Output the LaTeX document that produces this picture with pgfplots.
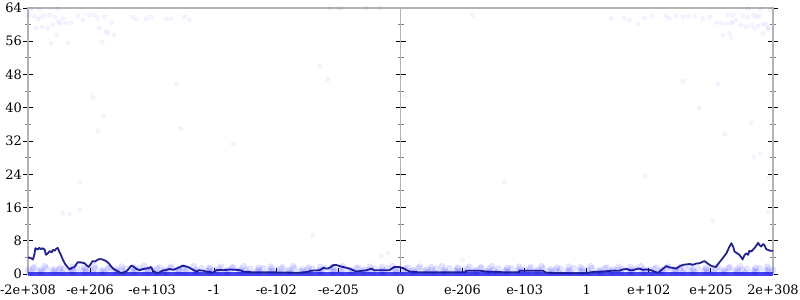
\documentclass[border=0pt]{standalone}
\usepackage{pgfplots}
\pgfplotsset{compat=1.18}
\usepackage{fontspec}
\setmainfont{DejaVu Serif}
\definecolor{axisgray}{RGB}{180,180,180}
\definecolor{linecol}{RGB}{35,35,140}
\definecolor{zerocol}{RGB}{70,70,235}
\begin{document}
\begin{tikzpicture}
\useasboundingbox (-28bp,-26bp) rectangle (772bp,274bp);
% middle axis at x = 0
\begin{axis}[at={(0,0)}, anchor=south west, scale only axis, width=745bp, height=266bp,
  xmin=-6, xmax=6, ymin=0, ymax=64,
  axis y line=center, axis x line=none,
  axis line style={draw=axisgray, line width=1.5bp, -},
  ytick={0,8,...,64}, yticklabels={}, minor y tick num=1,
  tick align=center, major tick length=10bp, minor tick length=6bp,
  major tick style={black, line width=1bp}, minor tick style={gray, line width=0.8bp}]
\end{axis}
% left / right y ticks
\begin{axis}[at={(0,0)}, anchor=south west, scale only axis, width=745bp, height=266bp,
  xmin=-6, xmax=6, ymin=0, ymax=64,
  axis line style={draw=none},
  xtick=\empty, ytick={0,8,...,64}, minor y tick num=1, ytick pos=both,
  tick align=center, major tick length=10bp, minor tick length=6bp,
  major tick style={black, line width=1bp}, minor tick style={gray, line width=0.8bp},
  /pgf/number format/assume math mode=true,
  yticklabel style={font=\fontsize{13}{15}\selectfont, inner sep=1bp}]
\end{axis}
% data axis
\begin{axis}[at={(0,0)}, anchor=south west, scale only axis, width=745bp, height=266bp,
  xmin=-6, xmax=6, ymin=0, ymax=64, clip=false,
  axis line style={draw=axisgray, line width=1.5bp},
  xtick={-6,-5,-4,-3,-2,-1,0,1,2,3,4,5,6},
  xticklabels={-2e+308,-e+206,-e+103,-1,-e-102,-e-205,0,e-206,e-103,1,e+102,e+205,2e+308},
  xtick pos=left, ytick=\empty, tick align=inside, major tick length=6bp,
  major tick style={black, line width=1bp},
  xticklabel style={font=\fontsize{13}{15}\selectfont, yshift=-7.5bp}]
% sparse points
\addplot[only marks, mark=*, mark size=2bp, mark options={fill=blue, draw=blue, fill opacity=0.035, draw opacity=0.07}] coordinates {
(-5.98,62.3) (-5.90,62.1) (-5.84,61.3) (-5.79,61.9) (-5.73,62.1) (-5.65,62.3) (-5.57,61.8) (-5.44,61.5)
(-5.87,59.1) (-5.77,59.5) (-5.68,59.1) (-5.60,59.9) (-5.52,60.7) (-5.47,60.3) (-5.39,60.3) (-5.31,60.5)
(-5.20,62.1) (-5.12,61.1) (-5.01,62.3) (-4.93,62.3) (-4.88,61.5) (-4.77,61.9) (-4.85,59.3) (-4.74,58.3)
(-4.71,57.9) (-4.66,60.5) (-4.61,57.5) (-4.80,55.9) (-5.54,57.5) (-5.63,55.5) (-5.36,55.5)
(-4.31,61.8) (-4.26,61.3) (-4.10,61.4) (-4.02,61.9) (-3.77,61.4) (-3.69,61.4) (-3.48,61.9) (-3.40,61.1)
(-5.95,63.8) (-5.82,63.8) (-5.52,63.8) (-1.14,63.9) (-1.02,63.9) (-0.96,63.9) (-0.55,63.9) (-0.34,63.9)
(1.16,62.3) (-3.61,45.6) (-4.96,42.5) (-1.30,49.9) (-1.17,46.8) (0.08,42.7)
(-4.78,38.1) (-4.88,34.5) (-3.54,34.9) (-2.70,31.3) (-5.17,22.0)
(-5.44,14.6) (-5.33,14.4) (-5.17,15.4) (-1.41,9.4) (-0.31,4.3) (-0.20,5.0) (1.0,3.4) (5.03,12.8) (5.92,14.8)
(3.39,61.5) (3.61,61.5) (3.69,61.1) (3.82,60.2) (3.93,61.5) (4.06,62.1) (4.28,62.1) (4.33,61.5)
(4.44,62.1) (4.55,61.9) (4.63,62.1) (4.74,62.1) (4.87,61.5) (4.98,61.9) (5.09,60.5) (5.17,60.3)
(5.25,60.2) (5.33,60.3) (5.27,62.3) (5.35,62.3) (5.41,61.1) (5.51,62.1) (5.59,61.8) (5.68,62.3)
(5.73,61.9) (5.78,62.1) (5.35,60.7) (5.49,59.9) (5.57,59.5) (5.65,59.9) (5.70,59.1) (5.76,59.7)
(5.84,60.2) (5.89,59.9) (5.94,59.3) (5.84,57.9) (5.92,58.9) (5.19,57.5) (5.30,57.9) (5.33,56.7)
(4.55,46.4) (5.11,45.7) (4.81,39.9) (5.65,36.4) (5.22,33.6) (5.80,29.0) (5.69,28.1) (3.94,23.6)
(1.68,22.1) (5.94,23.4) (5.6,63.8) (5.8,63.8) (5.95,63.5)
};
% dense band near zero
\addplot[only marks, mark=*, mark size=3.2bp, mark options={fill=blue, draw=blue, fill opacity=0.1, draw opacity=0.08}] coordinates {
(-5.95,.35) (-5.82,.6) (-5.77,.45) (-5.61,.7) (-5.56,.5)
(-5.45,.35) (-5.32,.6) (-5.27,.45) (-5.11,.7) (-5.06,.5)
(-4.95,.35) (-4.82,.6) (-4.77,.45) (-4.61,.7) (-4.56,.5)
(-4.45,.35) (-4.32,.6) (-4.27,.45) (-4.11,.7) (-4.06,.5)
(-3.95,.35) (-3.82,.6) (-3.77,.45) (-3.61,.7) (-3.56,.5)
(-3.45,.35) (-3.32,.6) (-3.27,.45) (-3.11,.7) (-3.06,.5)
(-2.95,.35) (-2.82,.6) (-2.77,.45) (-2.61,.7) (-2.56,.5)
(-2.45,.35) (-2.32,.6) (-2.27,.45) (-2.11,.7) (-2.06,.5)
(-1.95,.35) (-1.82,.6) (-1.77,.45) (-1.61,.7) (-1.56,.5)
(-1.45,.35) (-1.32,.6) (-1.27,.45) (-1.11,.7) (-1.06,.5)
(-0.95,.35) (-0.82,.6) (-0.77,.45) (-0.61,.7) (-0.56,.5)
(-0.45,.35) (-0.32,.6) (-0.27,.45) (-0.11,.7) (-0.06,.5)
(0.05,.35) (0.18,.6) (0.23,.45) (0.39,.7) (0.44,.5)
(0.55,.35) (0.68,.6) (0.73,.45) (0.89,.7) (0.94,.5)
(1.05,.35) (1.18,.6) (1.23,.45) (1.39,.7) (1.44,.5)
(1.55,.35) (1.68,.6) (1.73,.45) (1.89,.7) (1.94,.5)
(2.05,.35) (2.18,.6) (2.23,.45) (2.39,.7) (2.44,.5)
(2.55,.35) (2.68,.6) (2.73,.45) (2.89,.7) (2.94,.5)
(3.05,.35) (3.18,.6) (3.23,.45) (3.39,.7) (3.44,.5)
(3.55,.35) (3.68,.6) (3.73,.45) (3.89,.7) (3.94,.5)
(4.05,.35) (4.18,.6) (4.23,.45) (4.39,.7) (4.44,.5)
(4.55,.35) (4.68,.6) (4.73,.45) (4.89,.7) (4.94,.5)
(5.05,.35) (5.18,.6) (5.23,.45) (5.39,.7) (5.44,.5)
(5.55,.35) (5.68,.6) (5.73,.45) (5.89,.7) (5.94,.5)
(-6.0,1.0) (-5.92,1.25) (-5.79,.95) (-5.71,1.35) (-5.58,1.1)
(-5.5,1.0) (-5.42,1.25) (-5.29,.95) (-5.21,1.35) (-5.08,1.1)
(-5.0,1.0) (-4.92,1.25) (-4.79,.95) (-4.71,1.35) (-4.58,1.1)
(-4.5,1.0) (-4.42,1.25) (-4.29,.95) (-4.21,1.35) (-4.08,1.1)
(-4.0,1.0) (-3.92,1.25) (-3.79,.95) (-3.71,1.35) (-3.58,1.1)
(-3.5,1.0) (-3.42,1.25) (-3.29,.95) (-3.21,1.35) (-3.08,1.1)
(-3.0,1.0) (-2.92,1.25) (-2.79,.95) (-2.71,1.35) (-2.58,1.1)
(-2.5,1.0) (-2.42,1.25) (-2.29,.95) (-2.21,1.35) (-2.08,1.1)
(-2.0,1.0) (-1.92,1.25) (-1.79,.95) (-1.71,1.35) (-1.58,1.1)
(-1.5,1.0) (-1.42,1.25) (-1.29,.95) (-1.21,1.35) (-1.08,1.1)
(-1.0,1.0) (-0.92,1.25) (-0.79,.95) (-0.71,1.35) (-0.58,1.1)
(-0.5,1.0) (-0.42,1.25) (-0.29,.95) (-0.21,1.35) (-0.08,1.1)
(0.0,1.0) (0.08,1.25) (0.21,.95) (0.29,1.35) (0.42,1.1)
(0.5,1.0) (0.58,1.25) (0.71,.95) (0.79,1.35) (0.92,1.1)
(1.0,1.0) (1.08,1.25) (1.21,.95) (1.29,1.35) (1.42,1.1)
(1.5,1.0) (1.58,1.25) (1.71,.95) (1.79,1.35) (1.92,1.1)
(2.0,1.0) (2.08,1.25) (2.21,.95) (2.29,1.35) (2.42,1.1)
(2.5,1.0) (2.58,1.25) (2.71,.95) (2.79,1.35) (2.92,1.1)
(3.0,1.0) (3.08,1.25) (3.21,.95) (3.29,1.35) (3.42,1.1)
(3.5,1.0) (3.58,1.25) (3.71,.95) (3.79,1.35) (3.92,1.1)
(4.0,1.0) (4.08,1.25) (4.21,.95) (4.29,1.35) (4.42,1.1)
(4.5,1.0) (4.58,1.25) (4.71,.95) (4.79,1.35) (4.92,1.1)
(5.0,1.0) (5.08,1.25) (5.21,.95) (5.29,1.35) (5.42,1.1)
(5.5,1.0) (5.58,1.25) (5.71,.95) (5.79,1.35) (5.92,1.1) (6.0,1.0)
(-5.9,1.6) (-5.73,1.85) (-5.48,1.5) (-5.29,1.75)
(-5.1,1.6) (-4.93,1.85) (-4.68,1.5) (-4.49,1.75)
(-4.3,1.6) (-4.13,1.85) (-3.88,1.5) (-3.69,1.75)
(-3.5,1.6) (-3.33,1.85) (-3.08,1.5) (-2.89,1.75)
(-2.7,1.6) (-2.53,1.85) (-2.28,1.5) (-2.09,1.75)
(-1.9,1.6) (-1.73,1.85) (-1.48,1.5) (-1.29,1.75)
(-1.1,1.6) (-0.93,1.85) (-0.68,1.5) (-0.49,1.75)
(-0.3,1.6) (-0.13,1.85) (0.12,1.5) (0.31,1.75)
(0.5,1.6) (0.67,1.85) (0.92,1.5) (1.11,1.75)
(1.3,1.6) (1.47,1.85) (1.72,1.5) (1.91,1.75)
(2.1,1.6) (2.27,1.85) (2.52,1.5) (2.71,1.75)
(2.9,1.6) (3.07,1.85) (3.32,1.5) (3.51,1.75)
(3.7,1.6) (3.87,1.85) (4.12,1.5) (4.31,1.75)
(4.5,1.6) (4.67,1.85) (4.92,1.5) (5.11,1.75)
(5.3,1.6) (5.47,1.85) (5.72,1.5) (5.91,1.75)
};
% solid run of points at zero
\addplot[zerocol, line width=3.5bp] coordinates {(-6,0) (6,0)};
% average error line
\addplot[linecol, line width=1.8bp, line join=round] coordinates {
(-6,4.0) (-5.95,3.8) (-5.92,3.5) (-5.9,4.5) (-5.88,6.2) (-5.84,5.9) (-5.82,6.3) (-5.79,6.0) (-5.76,6.2) (-5.73,5.8)
(-5.71,4.6) (-5.68,5.0) (-5.65,5.5) (-5.62,5.2) (-5.6,5.8) (-5.57,5.6) (-5.55,6.0) (-5.52,6.3) (-5.5,5.5) (-5.47,4.6)
(-5.44,3.5) (-5.41,2.6) (-5.37,1.8) (-5.33,1.1) (-5.29,1.5) (-5.25,1.7) (-5.22,2.4) (-5.2,2.8) (-5.15,2.8) (-5.09,2.6)
(-5.05,2.0) (-5.02,1.7) (-4.99,2.4) (-4.96,3.1) (-4.92,3.0) (-4.88,3.4) (-4.85,3.6) (-4.8,3.5) (-4.74,3.1) (-4.7,2.6)
(-4.66,1.8) (-4.63,1.3) (-4.56,0.7) (-4.5,0.2) (-4.42,0.6) (-4.38,1.2) (-4.34,2.0) (-4.3,1.8) (-4.26,1.3) (-4.2,0.9)
(-4.15,1.2) (-4.1,1.3) (-4.06,1.4) (-4.02,1.7) (-3.98,0.6) (-3.91,0.2) (-3.83,0.8) (-3.77,1.0) (-3.72,1.2) (-3.66,1.0)
(-3.61,1.3) (-3.56,1.6) (-3.51,2.0) (-3.45,1.8) (-3.4,1.5) (-3.34,1.0) (-3.29,0.6) (-3.24,0.9) (-3.18,0.8) (-3.13,0.6)
(-3.07,0.5) (-3.02,0.3) (-2.97,0.9) (-2.9,1.0) (-2.86,0.9) (-2.8,1.0) (-2.75,1.1) (-2.65,1.0) (-2.58,0.9) (-2.54,0.6)
(-2.38,0.4) (-2.06,0.4) (-1.63,0.3) (-1.5,0.5) (-1.44,0.8) (-1.3,0.9) (-1.24,1.5) (-1.2,1.3) (-1.17,1.3) (-1.12,1.7)
(-1.09,2.1) (-1.04,2.2) (-0.98,1.9) (-0.93,1.7) (-0.87,1.5) (-0.82,1.3) (-0.76,0.9) (-0.71,0.6) (-0.6,0.8) (-0.54,0.9)
(-0.47,1.3) (-0.42,0.9) (-0.18,0.9) (-0.1,1.7) (-0.02,1.7)
(0,1.6) (0.06,1.3) (0.1,0.9) (0.15,0.6) (0.3,0.4) (0.52,0.4) (1.04,0.4) (1.06,0.8) (1.27,0.8) (1.38,0.6)
(1.7,0.4) (1.9,0.4) (1.92,0.8) (2.29,0.8) (2.35,0.3) (2.67,0.2) (2.99,0.2) (3.1,0.5) (3.26,0.6) (3.42,0.8)
(3.53,0.8) (3.58,1.1) (3.64,1.2) (3.7,0.9) (3.74,0.9) (3.8,1.2) (3.85,1.3) (3.9,1.0) (3.96,1.1) (4.0,1.0)
(4.06,0.8) (4.1,0.5) (4.15,0.3) (4.19,0.8) (4.23,1.3) (4.28,1.9) (4.33,1.6) (4.38,1.5) (4.44,1.3) (4.5,1.9)
(4.55,2.2) (4.6,2.3) (4.66,2.4) (4.71,2.2) (4.76,2.5) (4.82,2.6) (4.86,2.9) (4.9,3.1) (4.95,2.5) (5.0,2.0)
(5.04,1.8) (5.08,1.7) (5.12,2.5) (5.17,3.4) (5.21,4.2) (5.25,5.0) (5.29,6.3) (5.33,7.4) (5.36,6.5) (5.38,5.4)
(5.42,5.0) (5.46,4.6) (5.49,4.0) (5.51,3.5) (5.54,4.5) (5.57,5.0) (5.6,4.6) (5.62,5.6) (5.65,5.4) (5.68,5.9)
(5.7,6.2) (5.73,6.8) (5.76,7.5) (5.78,7.0) (5.81,6.6) (5.84,7.2) (5.86,7.0) (5.89,6.0) (5.92,5.8) (5.95,5.6) (6.0,5.6)
};
\end{axis}
\end{tikzpicture}
\end{document}
